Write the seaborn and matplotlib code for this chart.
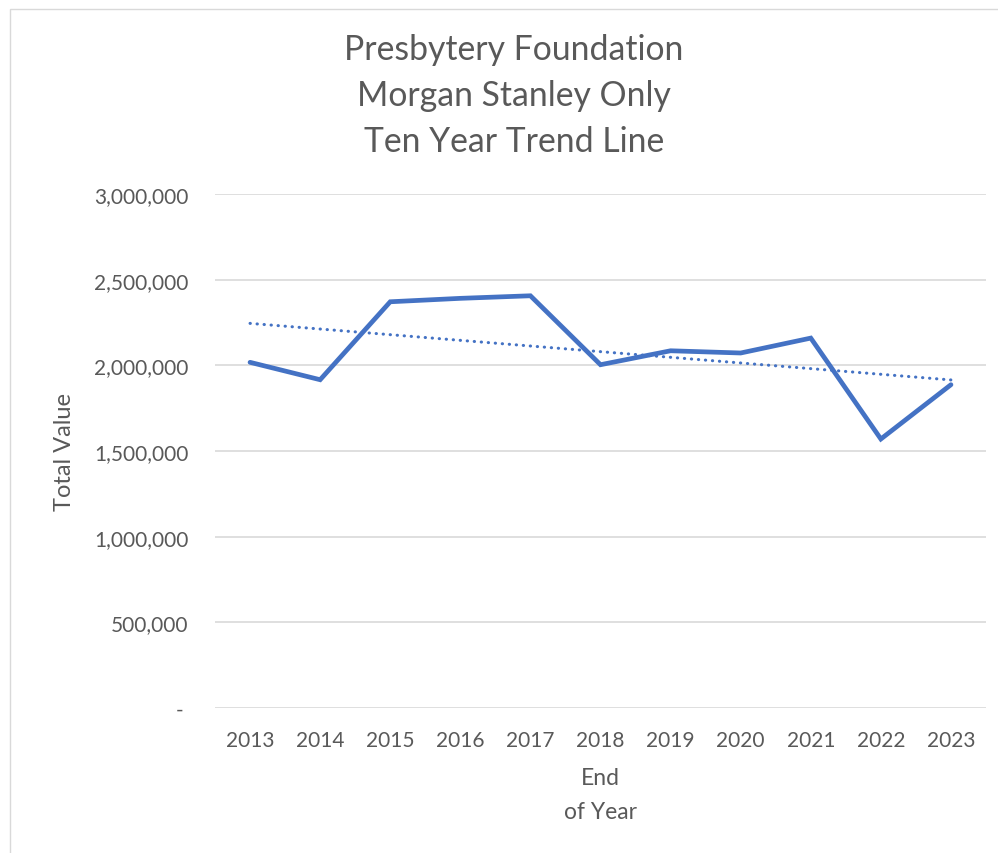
import matplotlib
matplotlib.use("Agg")
import matplotlib.pyplot as plt
import matplotlib.ticker as mticker
from matplotlib.patches import Rectangle
import seaborn as sns
import pandas as pd

years = [2013, 2014, 2015, 2016, 2017, 2018, 2019, 2020, 2021, 2022, 2023]
total_value = [2017600, 1916000, 2371000, 2391000, 2406000, 2003600,
               2085000, 2072000, 2159000, 1570000, 1887000]
title_lines = ["Presbytery Foundation", "Morgan Stanley Only", "Ten Year Trend Line"]
y_ticks = [0, 500000, 1000000, 1500000, 2000000, 2500000, 3000000]

df = pd.DataFrame({"year": years, "value": total_value})

sns.set_theme(style="white")
plt.rcParams["font.family"] = ["Lato", "DejaVu Sans"]

GRAY = "#595959"
BLUE = "#4472C4"

fig = plt.figure(figsize=(9.98, 8.54), dpi=100)
ax = fig.add_axes([215/998, 1-709/854, (986-215)/998, (709-195)/854])

# chart border
fig.patches.append(Rectangle((10/998, -0.01), 1.0, 1 - 10/854 + 0.01,
                             transform=fig.transFigure, fill=False,
                             edgecolor="#D9D9D9", linewidth=1.0))

sns.lineplot(data=df, x="year", y="value", ax=ax, color=BLUE, linewidth=3.4,
             solid_joinstyle="miter", solid_capstyle="round", zorder=3)
sns.regplot(data=df, x="year", y="value", ax=ax, scatter=False, ci=None,
            truncate=True, color=BLUE,
            line_kws=dict(linestyle=(0, (0.1, 2.2)), linewidth=2.2,
                          dash_capstyle="round", zorder=4))

ax.set_xlim(2012.5, 2023.5)
ax.set_ylim(0, 3000000)
ax.set_yticks(y_ticks)
ax.set_xticks(years)
ax.set_xticklabels([str(y) for y in years])
ax.yaxis.set_major_formatter(mticker.FuncFormatter(
    lambda v, p: "- " if v == 0 else f"{int(v):,}"))
ax.grid(axis="y", color="#D9D9D9", linewidth=1.2)
ax.grid(axis="x", visible=False)
for s in ax.spines.values():
    s.set_visible(False)
ax.tick_params(axis="both", length=0, labelsize=15, colors=GRAY)
ax.tick_params(axis="y", pad=19)
ax.tick_params(axis="x", pad=16)

ax.set_ylabel("Total Value", fontsize=17, color=GRAY, labelpad=14)
ax.set_xlabel("End\nof Year", fontsize=16.5, color=GRAY, labelpad=12,
              linespacing=1.75)

fig.text(514/998, 1 - 96/854, "\n".join(title_lines), ha="center", va="center",
         fontsize=24.3, color=GRAY, linespacing=1.53)

fig.savefig("out.png", dpi=100, facecolor="white")
